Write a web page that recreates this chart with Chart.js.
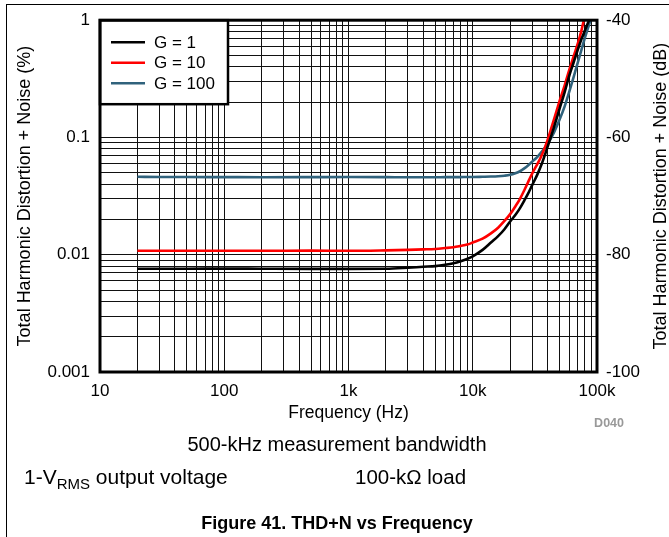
<!DOCTYPE html>
<html>
<head>
<meta charset="utf-8">
<script src="https://cdn.jsdelivr.net/npm/chart.js@4.4.1/dist/chart.umd.min.js"></script>
<style>
  html, body { margin: 0; padding: 0; background: #fff; }
  #wrap { width: 669px; height: 537px; }
</style>
</head>
<body>
<div id="wrap"><canvas id="thdChart" width="669" height="537"></canvas></div>
<script>
// frequency points (Hz), shared by the three curves
const freqHz = [20, 30, 50, 100, 200, 500, 1000, 2000, 3000, 4000, 5000, 6000, 7000, 8000, 9000,
  10000, 12000, 14000, 16000, 18000, 20000, 22000, 24000, 26000, 28000, 30000, 33000, 36000,
  40000, 45000, 50000, 55000, 60000, 65000, 70000, 75000, 80000, 85000, 90000];

// THD+N (%)
const thdG1 = [0.0076, 0.0076, 0.0076, 0.00762, 0.0076, 0.00758, 0.00758, 0.0076, 0.00775, 0.0079,
  0.0080, 0.0082, 0.00845, 0.0088, 0.0092, 0.0097, 0.0110, 0.0127, 0.0144, 0.0165, 0.0192, 0.0218,
  0.0250, 0.0290, 0.0335, 0.0390, 0.0480, 0.0600, 0.0830, 0.1220, 0.1760, 0.2450, 0.3400, 0.4400,
  0.5600, 0.6900, 0.8200, 0.9600, 1.1000];
const thdG10 = [0.0108, 0.0108, 0.0108, 0.0108, 0.0108, 0.01085, 0.0108, 0.0109, 0.0110, 0.0111,
  0.0112, 0.0114, 0.0116, 0.0119, 0.0122, 0.0127, 0.0137, 0.0152, 0.0170, 0.0194, 0.0222, 0.0258,
  0.0300, 0.0355, 0.0420, 0.0490, 0.0590, 0.0710, 0.0950, 0.1420, 0.2050, 0.2800, 0.3800, 0.4970,
  0.6300, 0.8200, 1.1000, 1.4000, 1.7000];
const thdG100 = [0.0462, 0.0460, 0.0460, 0.0459, 0.0458, 0.0459, 0.0460, 0.0459, 0.0458, 0.0458,
  0.0458, 0.0459, 0.0459, 0.0459, 0.0460, 0.0460, 0.0462, 0.0464, 0.0467, 0.0472, 0.0480, 0.0495,
  0.0515, 0.0545, 0.0580, 0.0620, 0.0680, 0.0760, 0.0880, 0.1100, 0.1420, 0.1850, 0.2480, 0.3300,
  0.4350, 0.5600, 0.7100, 0.8700, 1.0500];

const seriesLabels = ['G = 1', 'G = 10', 'G = 100'];
const seriesColors = ['#000000', '#ff0000', '#30627c'];

// axes
const xDecades = [10, 100, 1000, 10000, 100000];
const xTickLabels = ['10', '100', '1k', '10k', '100k'];
const yDecades = [0.001, 0.01, 0.1, 1];
const yTickLabels = ['0.001', '0.01', '0.1', '1'];
const gridSteps = [1, 2, 3, 4, 5, 6, 7, 8, 9];
const dbTicks = [-100, -80, -60, -40];

const FONT = '"Liberation Sans", Arial, Helvetica, sans-serif';

// decade lines plus the 2..9 lines in between
function logGrid(decades) {
  const vals = [];
  decades.forEach((d, i) => {
    if (i === decades.length - 1) { vals.push(d); return; }
    gridSteps.forEach(s => vals.push(+(d * s).toPrecision(6)));
  });
  return vals;
}

function toPoints(ys) {
  return freqHz.map((f, i) => ({ x: f, y: ys[i] }));
}

const lineDefaults = { borderWidth: 2.6, pointRadius: 0, cubicInterpolationMode: 'monotone', fill: false };

const decor = {
  id: 'decor',
  beforeDraw(chart) {
    const ctx = chart.ctx;
    ctx.save();
    ctx.fillStyle = '#fff';
    ctx.fillRect(0, 0, chart.width, chart.height);
    ctx.restore();
  },
  afterDatasetsDraw(chart) {
    const ctx = chart.ctx;
    const a = chart.chartArea;
    ctx.save();
    // legend box
    const lx = a.left, ly = a.top, lw = 128, lh = 84;
    ctx.fillStyle = '#fff';
    ctx.fillRect(lx, ly, lw, lh);
    ctx.strokeStyle = '#000';
    ctx.lineWidth = 2.5;
    ctx.strokeRect(lx, ly, lw, lh);
    ctx.font = '17px ' + FONT;
    ctx.textBaseline = 'middle';
    ctx.textAlign = 'left';
    chart.data.datasets.forEach((ds, i) => {
      const y = ly + 22 + i * 20.5;
      ctx.strokeStyle = ds.borderColor;
      ctx.lineWidth = 2.6;
      ctx.beginPath();
      ctx.moveTo(lx + 11, y);
      ctx.lineTo(lx + 45, y);
      ctx.stroke();
      ctx.fillStyle = '#000';
      ctx.fillText(ds.label, lx + 54, y + 1);
    });
    // plot frame
    ctx.strokeStyle = '#000';
    ctx.lineWidth = 3;
    ctx.strokeRect(a.left, a.top, a.right - a.left, a.bottom - a.top);
    ctx.restore();
  },
  afterDraw(chart) {
    const ctx = chart.ctx;
    const a = chart.chartArea;
    ctx.save();
    ctx.fillStyle = '#000';
    // outer figure frame (top and left edges)
    ctx.fillRect(6, 4, chart.width - 6, 1);
    ctx.fillRect(6, 4, 1, chart.height - 4);

    // right axis title, reading bottom to top
    ctx.font = '18px ' + FONT;
    ctx.textAlign = 'center';
    ctx.textBaseline = 'middle';
    ctx.translate(661, (a.top + a.bottom) / 2);
    ctx.rotate(-Math.PI / 2);
    ctx.fillText('Total Harmonic Distortion + Noise (dB)', 0, 0);
    ctx.setTransform(1, 0, 0, 1, 0, 0);

    // figure code
    ctx.font = 'bold 12.5px ' + FONT;
    ctx.fillStyle = '#999';
    ctx.textAlign = 'right';
    ctx.fillText('D040', 624, 424);

    // conditions
    ctx.fillStyle = '#000';
    ctx.textBaseline = 'alphabetic';
    ctx.textAlign = 'center';
    ctx.font = '20px ' + FONT;
    ctx.fillText('500-kHz measurement bandwidth', 337, 451);

    ctx.textAlign = 'left';
    let x = 24;
    ctx.font = '21px ' + FONT;
    ctx.fillText('1-V', x, 484);
    x += ctx.measureText('1-V').width;
    ctx.font = '15px ' + FONT;
    ctx.fillText('RMS', x, 489);
    x += ctx.measureText('RMS').width;
    ctx.font = '21px ' + FONT;
    ctx.fillText(' output voltage', x, 484);
    ctx.font = '20.5px ' + FONT;
    ctx.fillText('100-k\u03A9 load', 355, 484);

    ctx.textAlign = 'center';
    ctx.font = 'bold 18px ' + FONT;
    ctx.fillText('Figure 41. THD+N vs Frequency', 337, 529);
    ctx.restore();
  }
};

const ctx = document.getElementById('thdChart').getContext('2d');
new Chart(ctx, {
  type: 'line',
  data: {
    datasets: [
      Object.assign({ label: seriesLabels[0], data: toPoints(thdG1), borderColor: seriesColors[0] }, lineDefaults),
      Object.assign({ label: seriesLabels[1], data: toPoints(thdG10), borderColor: seriesColors[1] }, lineDefaults),
      Object.assign({ label: seriesLabels[2], data: toPoints(thdG100), borderColor: seriesColors[2] }, lineDefaults)
    ]
  },
  options: {
    responsive: false,
    animation: false,
    devicePixelRatio: 1,
    layout: { padding: { left: 0, right: 0, top: 19, bottom: 113 } },
    plugins: {
      legend: { display: false },
      tooltip: { enabled: false }
    },
    scales: {
      x: {
        type: 'logarithmic',
        position: 'bottom',
        min: 10,
        max: 100000,
        afterBuildTicks: s => { s.ticks = logGrid(xDecades).map(v => ({ value: v })); },
        afterFit: s => { s.height = 52; },
        ticks: {
          autoSkip: false,
          maxRotation: 0,
          padding: 9,
          color: '#000',
          font: { family: FONT, size: 17 },
          callback: v => { const i = xDecades.indexOf(v); return i >= 0 ? xTickLabels[i] : ''; }
        },
        grid: { color: '#111', lineWidth: 1, drawTicks: false },
        border: { display: false },
        title: { display: true, text: 'Frequency (Hz)', color: '#000', font: { family: FONT, size: 17.5 }, padding: 0 }
      },
      y: {
        type: 'logarithmic',
        position: 'left',
        min: 0.001,
        max: 1,
        afterBuildTicks: s => { s.ticks = logGrid(yDecades).map(v => ({ value: v })); },
        afterFit: s => { s.width = 100; },
        ticks: {
          autoSkip: false,
          padding: 10,
          color: '#000',
          font: { family: FONT, size: 17 },
          callback: v => { const i = yDecades.indexOf(v); return i >= 0 ? yTickLabels[i] : ''; }
        },
        grid: { color: '#111', lineWidth: 1, drawTicks: false },
        border: { display: false },
        title: { display: true, text: 'Total Harmonic Distortion + Noise (%)', color: '#000', font: { family: FONT, size: 18 }, padding: { top: 14, bottom: 0 } }
      },
      y2: {
        type: 'linear',
        position: 'right',
        min: -100,
        max: -40,
        afterBuildTicks: s => { s.ticks = dbTicks.map(v => ({ value: v })); },
        afterFit: s => { s.width = 72; },
        ticks: {
          padding: 9,
          color: '#000',
          font: { family: FONT, size: 17 },
          callback: v => String(v)
        },
        grid: { display: false, drawTicks: false },
        border: { display: false }
      }
    }
  },
  plugins: [decor]
});
</script>
</body>
</html>
